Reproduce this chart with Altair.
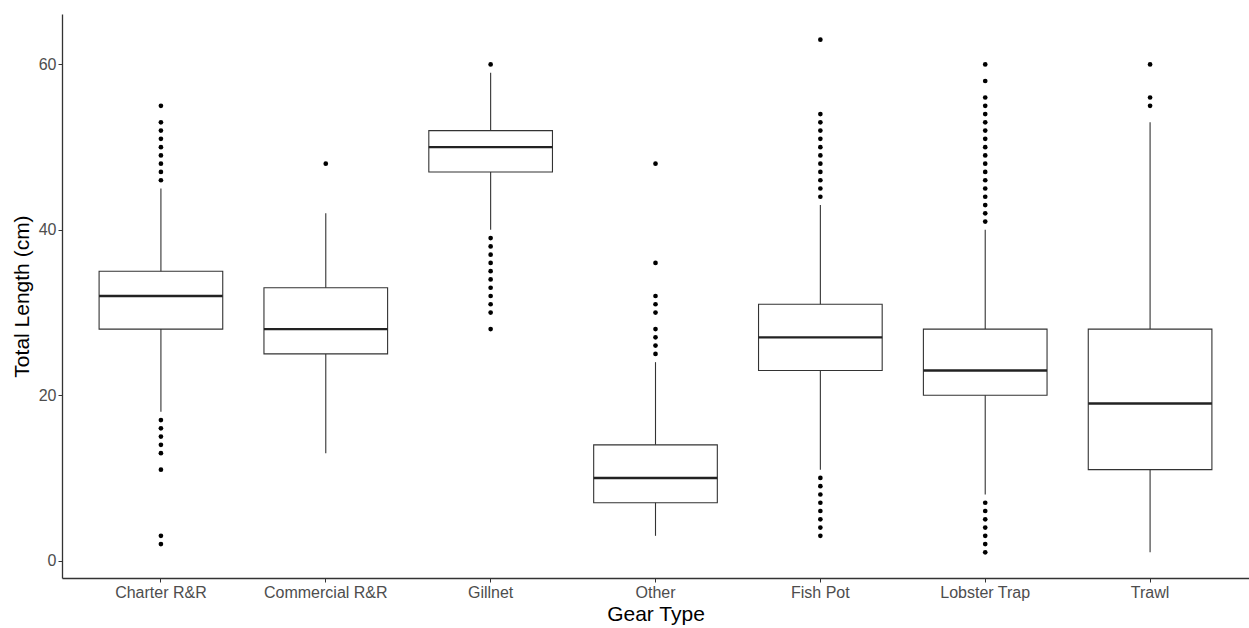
import altair as alt
import pandas as pd

# ---- data ----
gear = ["Charter R&R", "Commercial R&R", "Gillnet", "Other", "Fish Pot", "Lobster Trap", "Trawl"]
q1 = [28, 25, 47, 7, 23, 20, 11]
median = [32, 28, 50, 10, 27, 23, 19]
q3 = [35, 33, 52, 14, 31, 28, 28]
whisker_low = [18, 13, 40, 3, 11, 8, 1]
whisker_high = [45, 42, 59, 24, 43, 40, 53]

out_charter = [55, 53, 52, 51, 50, 49, 48, 47, 46, 17, 16, 15, 14, 13, 11, 3, 2]
out_commercial = [48]
out_gillnet = [60, 39, 38, 37, 36, 35, 34, 33, 32, 31, 30, 28]
out_other = [48, 36, 32, 31, 30, 28, 27, 26, 25]
out_fishpot = [63, 54, 53, 52, 51, 50, 49, 48, 47, 46, 45, 44, 10, 9, 8, 7, 6, 5, 4, 3]
out_lobster = [60, 58, 56, 55, 54, 53, 52, 51, 50, 49, 48, 47, 46, 45, 44, 43, 42, 41,
               7, 6, 5, 4, 3, 2, 1]
out_trawl = [60, 56, 55]

y_ticks = [0, 20, 40, 60]

summary = pd.DataFrame({
    "gear": gear, "q1": q1, "median": median, "q3": q3,
    "lo": whisker_low, "hi": whisker_high,
})
outlier_lists = [out_charter, out_commercial, out_gillnet, out_other,
                 out_fishpot, out_lobster, out_trawl]
outliers = pd.DataFrame(
    [{"gear": g, "value": v} for g, vals in zip(gear, outlier_lists) for v in vals]
)

W, H = 1187, 564
step = W / 7.2
box_w = step * 0.75

x_enc = alt.X(
    "gear:N", sort=gear, title="Gear Type",
    scale=alt.Scale(paddingInner=0.25, paddingOuter=0.225),
    axis=alt.Axis(labelAngle=0, labelFont="Liberation Sans", labelFontSize=16,
                  labelColor="#4D4D4D", titleFont="Liberation Sans", titleFontSize=21,
                  titleFontWeight="normal", titleColor="black", domainColor="#333333",
                  domainWidth=1.3, tickColor="#333333", tickSize=4, labelPadding=2,
                  titlePadding=3),
)
y_scale = alt.Scale(domain=[-2.1, 66.1], nice=False, zero=False)
y_axis = alt.Axis(values=y_ticks, labelFont="Liberation Sans", labelFontSize=16,
                  labelColor="#4D4D4D", titleFont="Liberation Sans", titleFontSize=21,
                  titleFontWeight="normal", titleColor="black", domainColor="#333333",
                  domainWidth=1.3, tickColor="#333333", tickSize=4, labelPadding=2,
                  titlePadding=6, grid=False)

base = alt.Chart(summary)

whiskers = base.mark_rule(color="#333333", strokeWidth=1.1).encode(
    x=x_enc,
    y=alt.Y("lo:Q", scale=y_scale, axis=y_axis, title="Total Length (cm)"),
    y2="hi:Q",
)
boxes = base.mark_bar(fill="white", stroke="#333333", strokeWidth=1.1).encode(
    x=x_enc,
    y=alt.Y("q1:Q", scale=y_scale),
    y2="q3:Q",
)
medians = base.mark_tick(color="#222222", thickness=2.4, size=box_w,
                         orient="horizontal", opacity=1).encode(
    x=x_enc,
    y=alt.Y("median:Q", scale=y_scale),
)
points = alt.Chart(outliers).mark_circle(color="black", size=22, opacity=1).encode(
    x=x_enc,
    y=alt.Y("value:Q", scale=y_scale),
)

chart = alt.layer(whiskers, boxes, medians, points).properties(
    width=W, height=H,
    padding={"left": 62, "top": 14, "right": 0, "bottom": 50},
    autosize=alt.AutoSizeParams(type="none"),
    background="white",
).configure_view(stroke=None)

chart.save("out.html", embed_options={"renderer": "svg", "actions": False})
